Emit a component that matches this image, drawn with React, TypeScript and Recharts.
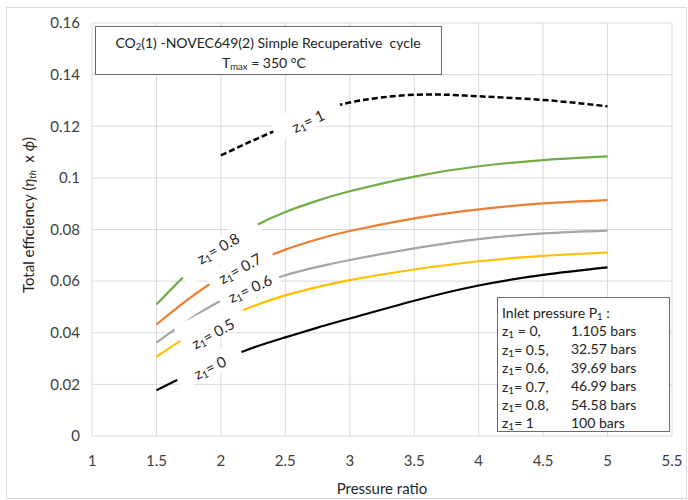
import React from 'react';
import { CartesianGrid, Line, LineChart, ReferenceDot, XAxis, YAxis } from 'recharts';

// Pressure ratio (x) and total efficiency for each CO2 mole fraction z1
const pressureRatio = [1.5, 1.75, 2, 2.25, 2.5, 2.75, 3, 3.5, 4, 4.5, 5];
const effZ0 = [0.0177, 0.0238, 0.0293, 0.0342, 0.0382, 0.042, 0.0455, 0.0524, 0.0583, 0.0624, 0.0653];
const effZ05 = [0.0307, 0.0388, 0.0452, 0.0503, 0.0545, 0.0577, 0.0604, 0.0645, 0.0677, 0.0698, 0.0711];
const effZ06 = [0.0362, 0.045, 0.0524, 0.058, 0.0623, 0.0655, 0.0682, 0.0727, 0.0763, 0.0785, 0.0796];
const effZ07 = [0.0432, 0.0531, 0.0614, 0.0672, 0.0722, 0.0762, 0.0794, 0.0843, 0.0878, 0.0901, 0.0914];
const effZ08 = [0.0509, 0.0635, 0.0733, 0.081, 0.0868, 0.0912, 0.0948, 0.1005, 0.1045, 0.1069, 0.1083];
const effZ1 = [null, null, 0.1087, 0.1145, 0.1199, 0.125, 0.1292, 0.1322, 0.1316, 0.1302, 0.1277];

const xTicks = [1, 1.5, 2, 2.5, 3, 3.5, 4, 4.5, 5, 5.5];
const yTicks = [0, 0.02, 0.04, 0.06, 0.08, 0.1, 0.12, 0.14, 0.16];

const inletFractions = ['z1 = 0,', 'z1= 0.5,', 'z1= 0.6,', 'z1= 0.7,', 'z1= 0.8,', 'z1= 1'];
const inletPressures = ['1.105 bars', '32.57 bars', '39.69 bars', '46.99 bars', '54.58 bars', '100 bars'];

const data = pressureRatio.map((pr, i) => ({
  pr,
  z0: effZ0[i],
  z05: effZ05[i],
  z06: effZ06[i],
  z07: effZ07[i],
  z08: effZ08[i],
  z1: effZ1[i],
}));

const series = [
  { key: 'z0', color: '#000000' },
  { key: 'z05', color: '#ffc000' },
  { key: 'z06', color: '#a5a5a5' },
  { key: 'z07', color: '#ed7d31' },
  { key: 'z08', color: '#70ad47' },
];

// in-line curve tags: white box sits on the curve, text is rotated with it
const curveTags = [
  { value: '1', x: 2.664, y: 0.1233, boxAngle: -22, w: 72, h: 24, tx: 1.5, ty: 3, textAngle: -25 },
  { value: '0.8', x: 1.992, y: 0.0719, boxAngle: -35, w: 92, h: 24, tx: -2, ty: -2.5, textAngle: -30 },
  { value: '0.7', x: 2.155, y: 0.0647, boxAngle: -25, w: 70, h: 22, tx: -1, ty: -1, textAngle: -29 },
  { value: '0.6', x: 2.221, y: 0.0569, boxAngle: -23, w: 64, h: 22, tx: 0.5, ty: -1, textAngle: -25 },
  { value: '0.5', x: 1.926, y: 0.0431, boxAngle: -27, w: 70, h: 30, tx: 1.5, ty: 8.5, textAngle: -29 },
  { value: '0', x: 1.91, y: 0.0272, boxAngle: -24, w: 70, h: 22, tx: 0.5, ty: 1.5, textAngle: -26 },
];

const FONT = 'Lato, "Open Sans", sans-serif';
const fmt = (v: number) => String(Number(v.toFixed(2)));

function Z1({ rest }: { rest: string }) {
  return (
    <>
      <tspan>z</tspan>
      <tspan fontSize={10} dy={4}>1</tspan>
      <tspan dy={-4}>{rest}</tspan>
    </>
  );
}

type Tag = (typeof curveTags)[number];

function makeBox(tag: Tag) {
  return (props: any) => {
    const { cx, cy } = props;
    return (
      <rect
        x={cx - tag.w / 2}
        y={cy - tag.h / 2}
        width={tag.w}
        height={tag.h}
        fill="#ffffff"
        transform={`rotate(${tag.boxAngle} ${cx} ${cy})`}
      />
    );
  };
}

function makeText(tag: Tag) {
  return (props: any) => {
    const tx = props.cx + tag.tx;
    const ty = props.cy + tag.ty;
    return (
      <text
        x={tx}
        y={ty}
        textAnchor="middle"
        dominantBaseline="central"
        fontFamily={FONT}
        fontSize={15}
        fill="#262626"
        style={{ whiteSpace: 'pre' }}
        transform={`rotate(${tag.textAngle} ${tx} ${ty})`}
      >
        <Z1 rest={`= ${tag.value}`} />
      </text>
    );
  };
}

export default function App() {
  return (
    <div style={{ position: 'absolute', left: 0, top: 0, width: 688, height: 500, background: '#fff' }}>
      <LineChart width={688} height={500} data={data} margin={{ top: 23, right: 16, bottom: 0, left: 0 }}>
        <CartesianGrid stroke="#d9d9d9" strokeWidth={1} />
        <XAxis
          dataKey="pr"
          type="number"
          domain={[1, 5.5]}
          ticks={xTicks}
          tickFormatter={fmt}
          axisLine={false}
          tickLine={false}
          tickSize={0}
          tickMargin={19}
          height={64}
          tick={{ fontFamily: FONT, fontSize: 15, fill: '#404040' }}
        />
        <YAxis
          type="number"
          domain={[0, 0.16]}
          ticks={yTicks}
          tickFormatter={fmt}
          axisLine={false}
          tickLine={false}
          tickSize={0}
          tickMargin={12}
          width={92}
          tick={{ fontFamily: FONT, fontSize: 15, fill: '#404040' }}
        />
        {series.map((s) => (
          <Line
            key={s.key}
            dataKey={s.key}
            type="natural"
            stroke={s.color}
            strokeWidth={2.2}
            dot={false}
            isAnimationActive={false}
          />
        ))}
        <Line
          dataKey="z1"
          type="natural"
          stroke="#000000"
          strokeWidth={2.5}
          strokeDasharray="6 3"
          dot={false}
          connectNulls={false}
          isAnimationActive={false}
        />
        {curveTags.map((t) => (
          <ReferenceDot key={`box-${t.value}`} x={t.x} y={t.y} r={1} shape={makeBox(t)} />
        ))}
        {curveTags.map((t) => (
          <ReferenceDot key={`txt-${t.value}`} x={t.x} y={t.y} r={1} shape={makeText(t)} />
        ))}
      </LineChart>

      <svg
        width={688}
        height={500}
        style={{ position: 'absolute', left: 0, top: 0, pointerEvents: 'none' }}
        fontFamily={FONT}
      >
        <rect x={6.5} y={7.5} width={680} height={491} fill="none" stroke="#d9d9d9" />

        {/* title box */}
        <rect x={95.5} y={26.5} width={346} height={48} fill="#fff" stroke="#6b6b6b" />
        <text x={268} y={42} textAnchor="middle" dominantBaseline="central" fontSize={14} fill="#222" style={{ whiteSpace: 'pre' }}>
          <tspan>CO</tspan>
          <tspan fontSize={9.5} dy={4}>2</tspan>
          <tspan dy={-4}>(1) -NOVEC649(2) Simple Recuperative  cycle</tspan>
        </text>
        <text x={264} y={62} textAnchor="middle" dominantBaseline="central" fontSize={14} fill="#222">
          <tspan>T</tspan>
          <tspan fontSize={9.5} dy={4}>max</tspan>
          <tspan dy={-4}> = 350 °C</tspan>
        </text>

        {/* inlet pressure box */}
        <rect x={497.5} y={297.5} width={172} height={134} fill="#fff" stroke="#6b6b6b" />
        <text x={502} y={312} dominantBaseline="central" fontSize={14} fill="#222">
          <tspan>Inlet pressure P</tspan>
          <tspan fontSize={9.5} dy={4}>1</tspan>
          <tspan dy={-4}> :</tspan>
        </text>
        {inletFractions.map((f, i) => (
          <g key={f}>
            <text x={502} y={330.4 + i * 18.4} dominantBaseline="central" fontSize={14} fill="#222" style={{ whiteSpace: 'pre' }}>
              <Z1 rest={f.slice(2)} />
            </text>
            <text x={571} y={330.4 + i * 18.4} dominantBaseline="central" fontSize={14} fill="#222">
              {inletPressures[i]}
            </text>
          </g>
        ))}

        {/* axis titles */}
        <text
          x={28}
          y={215}
          textAnchor="middle"
          dominantBaseline="central"
          fontSize={15}
          fill="#262626"
          style={{ whiteSpace: 'pre' }}
          transform="rotate(-90 28 215)"
        >
          <tspan>Total efficiency (</tspan>
          <tspan fontStyle="italic">η</tspan>
          <tspan fontStyle="italic" fontSize={9.5} dy={4}>th</tspan>
          <tspan dy={-4}>  x </tspan>
          <tspan fontStyle="italic">ϕ</tspan>
          <tspan>)</tspan>
        </text>
        <text x={382} y={488} textAnchor="middle" dominantBaseline="central" fontSize={15} fill="#262626">
          Pressure ratio
        </text>
      </svg>
    </div>
  );
}
